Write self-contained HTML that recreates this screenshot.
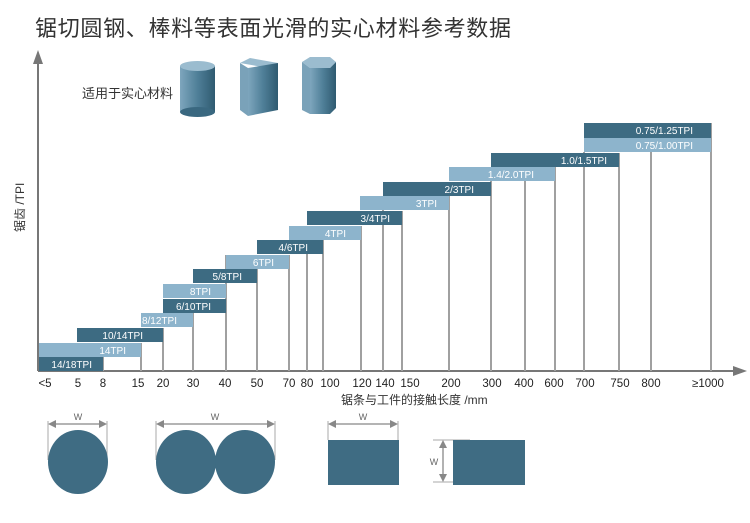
<!DOCTYPE html>
<html><head><meta charset="utf-8"><style>
html,body{margin:0;padding:0;background:#fff;}
svg{display:block;font-family:"Liberation Sans","Noto Sans CJK SC",sans-serif;}
</style></head><body>
<svg width="750" height="523" viewBox="0 0 750 523" xmlns="http://www.w3.org/2000/svg">
<defs>
<linearGradient id="cy" x1="0" x2="1"><stop offset="0" stop-color="#7ea6bd"/><stop offset="0.5" stop-color="#4f7f98"/><stop offset="1" stop-color="#2f5a70"/></linearGradient>
<marker id="ar" markerWidth="10" markerHeight="8" refX="9" refY="4" orient="auto"><path d="M0,0 L10,4 L0,8z" fill="#777"/></marker>
</defs>
<text x="35" y="36" font-size="22" fill="#333" textLength="476">锯切圆钢、棒料等表面光滑的实心材料参考数据</text>
<!-- axes -->
<line x1="38" y1="371" x2="38" y2="62" stroke="#777" stroke-width="2"/>
<path d="M33,64 L38,50 L43,64z" fill="#777"/>
<line x1="38" y1="371" x2="735" y2="371" stroke="#777" stroke-width="2"/>
<path d="M733,366 L747,371 L733,376z" fill="#777"/>
<text transform="translate(24,232) rotate(-90)" font-size="12" fill="#333">锯齿 /TPI</text>
<text x="82" y="98" font-size="13" fill="#333">适用于实心材料</text>
<!-- icons -->
<rect x="180" y="66" width="35" height="46" fill="url(#cy)"/>
<ellipse cx="197.5" cy="112" rx="17.5" ry="5" fill="#3a6880"/>
<ellipse cx="197.5" cy="66" rx="17.5" ry="5" fill="#9bbccf"/>
<polygon points="240,63 250,58 278,63 268,68" fill="#9bbccf"/>
<polygon points="240,63 248,68 248,116 240,110" fill="#7aa2b9"/>
<polygon points="248,68 278,63 278,110 248,116" fill="url(#cy)"/>
<polygon points="302,62 310,57 330,57 336,62 330,68 310,68" fill="#9bbccf"/>
<polygon points="302,62 310,68 310,114 302,110" fill="#7aa2b9"/>
<polygon points="310,68 330,68 336,62 336,108 330,114 310,114" fill="url(#cy)"/>
<!-- vertical lines -->
<g stroke="#a0a0a0" stroke-width="2">
<line x1="103" y1="357" x2="103" y2="371"/><line x1="141" y1="343" x2="141" y2="371"/>
<line x1="163" y1="328" x2="163" y2="371"/><line x1="193" y1="313" x2="193" y2="371"/>
<line x1="226" y1="255" x2="226" y2="371"/><line x1="257" y1="269" x2="257" y2="371"/>
<line x1="289" y1="255" x2="289" y2="371"/><line x1="307" y1="230" x2="307" y2="371"/>
<line x1="323" y1="240" x2="323" y2="371"/><line x1="361" y1="226" x2="361" y2="371"/>
<line x1="383" y1="196" x2="383" y2="371"/><line x1="402" y1="211" x2="402" y2="371"/>
<line x1="449" y1="182" x2="449" y2="371"/><line x1="491" y1="167" x2="491" y2="371"/>
<line x1="525" y1="181" x2="525" y2="371"/><line x1="555" y1="167" x2="555" y2="371"/>
<line x1="584" y1="152" x2="584" y2="371"/><line x1="619" y1="153" x2="619" y2="371"/>
<line x1="651" y1="152" x2="651" y2="371"/><line x1="711" y1="123" x2="711" y2="371"/>
</g>
<!-- bars -->
<g font-size="10" fill="#fff" text-anchor="end">
<rect x="39" y="357" width="64" height="14" fill="#3d6b82"/><text x="92" y="368" fill="#fff">14/18TPI</text>
<rect x="39" y="343" width="102" height="14" fill="#8db4cc"/><text x="126" y="354" fill="#fff">14TPI</text>
<rect x="77" y="328" width="86" height="14" fill="#3d6b82"/><text x="143" y="339" fill="#fff">10/14TPI</text>
<rect x="141" y="313" width="52" height="14" fill="#8db4cc"/><text x="177" y="324" fill="#fff">8/12TPI</text>
<rect x="163" y="299" width="63" height="14" fill="#3d6b82"/><text x="211" y="310" fill="#fff">6/10TPI</text>
<rect x="163" y="284" width="63" height="14" fill="#8db4cc"/><text x="211" y="295" fill="#fff">8TPI</text>
<rect x="193" y="269" width="64" height="14" fill="#3d6b82"/><text x="242" y="280" fill="#fff">5/8TPI</text>
<rect x="226" y="255" width="63" height="14" fill="#8db4cc"/><text x="274" y="266" fill="#fff">6TPI</text>
<rect x="257" y="240" width="66" height="14" fill="#3d6b82"/><text x="308" y="251" fill="#fff">4/6TPI</text>
<rect x="289" y="226" width="72" height="14" fill="#8db4cc"/><text x="346" y="237" fill="#fff">4TPI</text>
<rect x="307" y="211" width="95" height="14" fill="#3d6b82"/><text x="390" y="222" fill="#fff">3/4TPI</text>
<rect x="360" y="196" width="89" height="14" fill="#8db4cc"/><text x="437" y="207" fill="#fff">3TPI</text>
<rect x="383" y="182" width="108" height="14" fill="#3d6b82"/><text x="474" y="193" fill="#fff">2/3TPI</text>
<rect x="449" y="167" width="106" height="14" fill="#8db4cc"/><text x="534" y="178" fill="#fff">1.4/2.0TPI</text>
<rect x="491" y="153" width="128" height="14" fill="#3d6b82"/><text x="607" y="164" fill="#fff">1.0/1.5TPI</text>
<rect x="584" y="138" width="127" height="14" fill="#8db4cc"/><text x="693" y="149" fill="#fff">0.75/1.00TPI</text>
<rect x="584" y="123" width="127" height="15" fill="#3d6b82"/><text x="693" y="134" fill="#fff">0.75/1.25TPI</text>
</g>
<!-- tick labels -->
<g font-size="11.5" fill="#222" text-anchor="middle">
<text x="45" y="387">&lt;5</text><text x="78" y="387">5</text><text x="103" y="387">8</text>
<text x="138" y="387">15</text><text x="163" y="387">20</text><text x="193" y="387">30</text>
<text x="225" y="387">40</text><text x="257" y="387">50</text><text x="289" y="387">70</text>
<text x="307" y="387">80</text><text x="330" y="387">100</text><text x="362" y="387">120</text>
<text x="385" y="387">140</text><text x="410" y="387">150</text><text x="451" y="387">200</text>
<text x="492" y="387">300</text><text x="524" y="387">400</text><text x="554" y="387">600</text>
<text x="585" y="387">700</text><text x="620" y="387">750</text><text x="651" y="387">800</text>
<text x="708" y="387">≥1000</text>
</g>
<text x="341" y="404" font-size="12" fill="#333">锯条与工件的接触长度 /mm</text>
<!-- bottom shapes -->
<g stroke="#aaa" stroke-width="1">
<line x1="48" y1="421" x2="48" y2="460"/><line x1="107" y1="421" x2="107" y2="460"/>
<line x1="156" y1="421" x2="156" y2="460"/><line x1="275" y1="421" x2="275" y2="460"/>
<line x1="328" y1="421" x2="328" y2="440"/><line x1="398" y1="421" x2="398" y2="440"/>
<line x1="433" y1="440" x2="470" y2="440"/><line x1="433" y1="482" x2="470" y2="482"/>
</g>
<g stroke="#888" stroke-width="1.3" marker-end="url(#ar)" marker-start="url(#ar)">
</g>
<g stroke="#888" stroke-width="1.3">
<line x1="52" y1="424" x2="103" y2="424"/><line x1="160" y1="424" x2="271" y2="424"/>
<line x1="332" y1="424" x2="394" y2="424"/><line x1="443" y1="444" x2="443" y2="478"/>
</g>
<g fill="#888">
<path d="M48,424 L56,420 L56,428z"/><path d="M107,424 L99,420 L99,428z"/>
<path d="M156,424 L164,420 L164,428z"/><path d="M275,424 L267,420 L267,428z"/>
<path d="M328,424 L336,420 L336,428z"/><path d="M398,424 L390,420 L390,428z"/>
<path d="M443,440 L439,448 L447,448z"/><path d="M443,482 L439,474 L447,474z"/>
</g>
<g font-size="9" fill="#666" text-anchor="middle">
<text x="78" y="420">W</text><text x="215" y="420">W</text><text x="363" y="420">W</text><text x="434" y="465">W</text>
</g>
<g fill="#3f6c83">
<ellipse cx="78" cy="462" rx="30" ry="32"/>
<ellipse cx="186" cy="462" rx="30" ry="32"/>
<ellipse cx="245" cy="462" rx="30" ry="32"/>
<rect x="328" y="440" width="71" height="45"/>
<rect x="453" y="440" width="72" height="45"/>
</g>
</svg>
</body></html>
